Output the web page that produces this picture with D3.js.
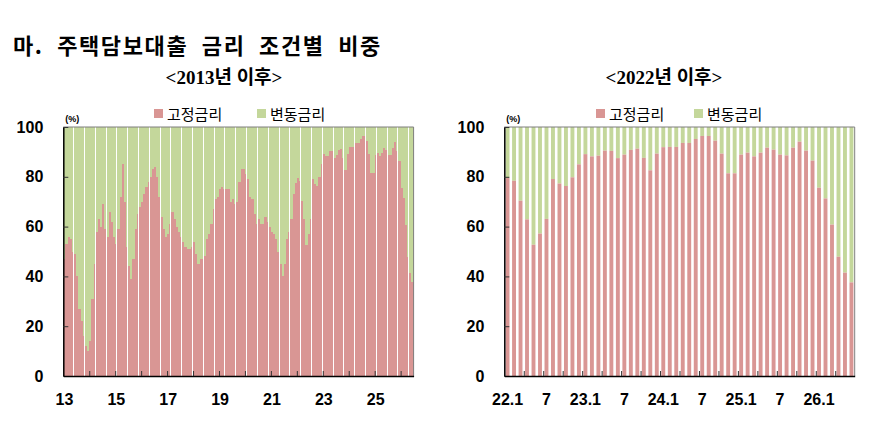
<!DOCTYPE html>
<html>
<head>
<meta charset="utf-8">
<script src="https://cdn.jsdelivr.net/npm/d3@7"></script>
<style>
  body { margin: 0; background: #fff; }
  svg { display: block; }
</style>
</head>
<body>
<svg id="chart" width="886" height="425"></svg>
<script>
// monthly share of fixed-rate loans (%), the rest is floating
const leftValues = [
  47, 53, 56, 55, 50, 49, 40, 27, 22, 16, 12, 10,
  14, 31, 45, 58, 63, 60, 69, 59, 56, 66, 62, 56,
  53, 59, 72, 85, 70, 52, 44, 39, 47, 59, 65, 68,
  70, 73, 76, 78, 80, 83, 84, 80, 72, 64, 59, 56,
  57, 61, 66, 63, 60, 58, 56, 54, 52, 51, 51, 52,
  54, 49, 45, 47, 47, 48, 55, 57, 61, 67, 71, 72,
  75, 76, 75, 75, 75, 70, 71, 69, 70, 78, 83, 83,
  81, 79, 72, 71, 65, 61, 63, 61, 61, 64, 62, 60,
  58, 57, 55, 50, 45, 40, 45, 55, 58, 63, 73, 77.5
];
const rightValues = [
  79.5, 78.4, 70.4, 62.9, 52.7, 57.2, 63.1, 79.1, 77.3, 76.3, 79.8, 85.0,
  89.1, 88.2, 88.5, 90.5, 90.4, 87.5, 88.9, 90.8, 91.3, 87.6, 82.6, 89.3,
  91.9, 92.0, 92.0, 93.6, 93.6, 95.2, 96.4, 96.4, 94.5, 89.3, 81.4, 81.4,
  88.9, 89.7, 88.2, 89.7, 91.7, 90.9, 88.9, 88.6, 91.7, 94.1, 90.5, 86.5,
  75.6, 71.3, 60.8, 47.9, 41.5, 37.6
];
const allValues = leftValues.concat(rightValues);

const leftTickLabels = ["13", "15", "17", "19", "21", "23", "25"];
const rightTickLabels = ["22.1", "7", "23.1", "7", "24.1", "7", "25.1", "7", "26.1"];
const yTicks = [0, 20, 40, 60, 80, 100];
const legendNames = ["고정금리", "변동금리"];
const titleText = "마. 주택담보대출 금리 조건별 비중";
const subtitles = ["<2013년 이후>", "<2022년 이후>"];

const months = d3.range(allValues.length).map(i => `${2013 + Math.floor(i / 12)}.${i % 12 + 1}`);
const rightMonths = months.slice(months.length - rightValues.length);

const PINK = "#D99694";
const GREEN = "#C4D79B";

const svg = d3.select('#chart');
const y = d3.scaleLinear().domain([0, 100]).range([376, 127]);

svg.append('text')
  .attr('x', 13).attr('y', 54)
  .attr('font-family', '"Noto Sans CJK KR"')
  .attr('font-weight', 'bold')
  .attr('font-size', 22)
  .attr('letter-spacing', 1.6)
  .attr('word-spacing', 7)
  .text(titleText);

function panel(o) {
  const g = svg.append('g');

  const x = d3.scaleBand()
    .domain(o.cats)
    .range([o.x0, o.x1])
    .paddingInner(o.pi)
    .paddingOuter(o.po);

  const bars = g.append('g').attr('shape-rendering', o.snap ? 'crispEdges' : null);

  // on the dense panel the bars touch, with a thin white seam every few months
  let bx, bw;
  if (o.snap) {
    const st = x.step();
    bx = (d, i) => Math.round(x(o.cats[i]));
    bw = (d, i) => Math.round(x(o.cats[i]) + st) - Math.round(x(o.cats[i])) - (i % o.snap === o.snap - 1 ? 1 : 0);
  } else {
    bx = (d, i) => x(o.cats[i]);
    bw = () => x.bandwidth();
  }

  bars.selectAll('rect.var')
    .data(o.values).enter()
    .append('rect')
    .attr('class', 'var')
    .attr('x', bx)
    .attr('width', bw)
    .attr('y', y(100))
    .attr('height', d => y(d) - y(100))
    .attr('fill', GREEN);

  bars.selectAll('rect.fix')
    .data(o.values).enter()
    .append('rect')
    .attr('class', 'fix')
    .attr('x', bx)
    .attr('width', bw)
    .attr('y', d => y(d))
    .attr('height', d => y(0) - y(d))
    .attr('fill', PINK);

  // grey frame on top and right
  g.append('path')
    .attr('d', `M${o.x0},${y(100)}H${o.x1}V${y(0)}`)
    .attr('fill', 'none')
    .attr('stroke', '#7f7f7f')
    .attr('stroke-width', 1);

  // y axis
  const ya = g.append('g')
    .attr('transform', `translate(${o.x0},0)`)
    .call(d3.axisLeft(y).tickValues(yTicks).tickSize(-5).tickSizeOuter(0).tickPadding(20));
  ya.select('.domain').attr('stroke', '#000').attr('stroke-width', 1.5);
  ya.selectAll('.tick line').attr('stroke', '#333');
  ya.selectAll('text')
    .attr('font-family', '"Liberation Sans", Arial, sans-serif')
    .attr('font-weight', 'bold')
    .attr('font-size', 16)
    .attr('fill', '#000');

  // x tick marks at period boundaries
  const xi = d3.scaleLinear().domain([0, o.cats.length]).range([o.x0, o.x1]);
  const xt = g.append('g')
    .attr('transform', `translate(0,${y(0)})`)
    .call(d3.axisBottom(xi).tickValues(o.tickIdx).tickSize(-5).tickSizeOuter(0).tickFormat(''));
  xt.select('.domain').attr('stroke', '#000').attr('stroke-width', 1.5);
  xt.selectAll('.tick line').attr('stroke', '#333');

  // x labels centred under their month
  const xl = g.append('g')
    .attr('transform', `translate(0,${y(0)})`)
    .call(d3.axisBottom(x).tickValues(o.labelCats).tickSize(0).tickPadding(18)
      .tickFormat((d, i) => o.labels[i]));
  xl.select('.domain').remove();
  xl.selectAll('text')
    .attr('font-family', '"Liberation Sans", Arial, sans-serif')
    .attr('font-weight', 'bold')
    .attr('font-size', 16)
    .attr('fill', '#000');

  // unit
  g.append('text')
    .attr('x', o.x0 + 2).attr('y', 122)
    .attr('font-family', '"Liberation Sans", Arial, sans-serif')
    .attr('font-weight', 'bold')
    .attr('font-size', 9)
    .text('(%)');

  // legend
  const lg = g.append('g');
  [PINK, GREEN].forEach((c, i) => {
    lg.append('rect')
      .attr('x', o.legendX[i]).attr('y', 109)
      .attr('width', 9).attr('height', 9)
      .attr('fill', c);
    lg.append('text')
      .attr('x', o.legendX[i] + 13).attr('y', 120)
      .attr('font-family', '"Noto Sans CJK KR"')
      .attr('font-size', 15)
      .text(legendNames[i]);
  });

  // subtitle
  g.append('text')
    .attr('x', o.subX).attr('y', 84)
    .attr('text-anchor', 'middle')
    .attr('font-family', '"Liberation Serif", "Noto Sans CJK KR", serif')
    .attr('font-weight', 'bold')
    .attr('font-size', 19)
    .text(o.subtitle);
}

panel({
  cats: months,
  values: allValues,
  x0: 63.3, x1: 413.6,
  pi: 0, po: 0, snap: 5,
  tickIdx: d3.range(12, months.length, 12),
  labelCats: leftTickLabels.map(l => `20${l}.1`),
  labels: leftTickLabels,
  legendX: [154, 257],
  subX: 224,
  subtitle: subtitles[0]
});

panel({
  cats: rightMonths,
  values: rightValues,
  x0: 504.3, x1: 854.7,
  pi: 0.4, po: 0.2, snap: 0,
  tickIdx: d3.range(3, rightMonths.length, 3),
  labelCats: rightTickLabels.map((l, i) => rightMonths[i * 6]),
  labels: rightTickLabels,
  legendX: [596, 694],
  subX: 664,
  subtitle: subtitles[1]
});
</script>
</body>
</html>
